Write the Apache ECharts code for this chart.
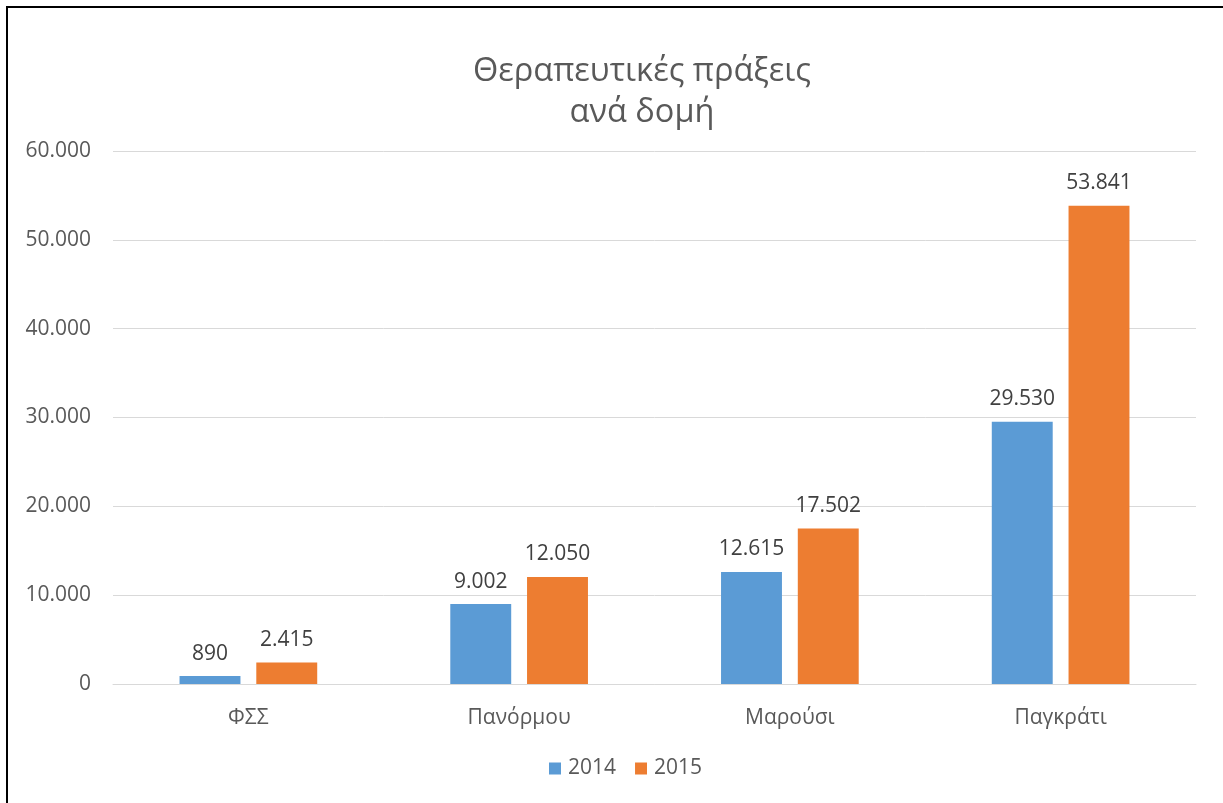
<!DOCTYPE html>
<html>
<head>
<meta charset="utf-8">
<script src="https://cdn.jsdelivr.net/npm/echarts@6/dist/echarts.min.js"></script>
<style>
html, body { margin: 0; padding: 0; background: #fff; overflow: hidden; }
#frame { position: absolute; left: 6px; top: 6px; width: 1300px; height: 900px; border-left: 2px solid #000; border-top: 2px solid #000; }
#chart { position: absolute; left: 0; top: 0; width: 1223px; height: 803px; }
</style>
</head>
<body>
<div id="frame"></div>
<div id="chart"></div>
<script>
// δεδομένα
var categories = ['ΦΣΣ', 'Πανόρμου', 'Μαρούσι', 'Παγκράτι'];
var years = ['2014', '2015'];
var values2014 = [890, 9002, 12615, 29530];
var values2015 = [2415, 12050, 17502, 53841];

// μορφή αριθμών με τελεία για χιλιάδες
function fmt(v) {
	return String(v).replace(/\B(?=(\d{3})+(?!\d))/g, '.');
}

var chart = echarts.init(document.getElementById('chart'));
var font = '"Open Sans", "Noto Sans", sans-serif';

var option = {
	animation: false,
	color: ['#5b9bd5', '#ed7d31'],
	title: {
		text: 'Θεραπευτικές πράξεις\nανά δομή',
		left: 637,
		textAlign: 'center',
		top: 46,
		textStyle: {
			color: '#595959',
			fontSize: 32.5,
			fontWeight: 'normal',
			fontFamily: font,
			lineHeight: 41
		}
	},
	legend: {
		data: years,
		bottom: 19,
		left: 544,
		itemWidth: 12,
		itemHeight: 12,
		itemGap: 19,
		icon: 'rect',
		textStyle: { color: '#595959', fontSize: 21, fontFamily: font, padding: [0, 0, 0, 2] }
	},
	grid: {
		left: 113,
		right: 27,
		top: 151,
		bottom: 119,
		containLabel: false
	},
	xAxis: {
		type: 'category',
		data: categories,
		axisLine: { lineStyle: { color: '#d9d9d9', width: 1 } },
		axisTick: { show: false },
		axisLabel: { color: '#595959', fontSize: 21, fontFamily: font, margin: 24 }
	},
	yAxis: {
		type: 'value',
		min: 0,
		max: 60000,
		interval: 10000,
		axisLine: { show: false },
		axisTick: { show: false },
		splitLine: { lineStyle: { color: '#d9d9d9', width: 1 } },
		axisLabel: {
			color: '#595959', fontSize: 21, fontFamily: font, margin: 22,
			formatter: function (v) { return fmt(v); }
		}
	},
	series: [{
		name: years[0],
		type: 'bar',
		data: values2014,
		barWidth: '22.5%',
		barGap: '26%',
		label: {
			show: true, position: 'top', distance: 12,
			color: '#404040', fontSize: 21, fontFamily: font,
			formatter: function (p) { return fmt(p.value); }
		}
	}, {
		name: years[1],
		type: 'bar',
		data: values2015,
		barWidth: '22.5%',
		barGap: '26%',
		label: {
			show: true, position: 'top', distance: 12,
			color: '#404040', fontSize: 21, fontFamily: font,
			formatter: function (p) { return fmt(p.value); }
		}
	}]
};

chart.setOption(option);
</script>
</body>
</html>
